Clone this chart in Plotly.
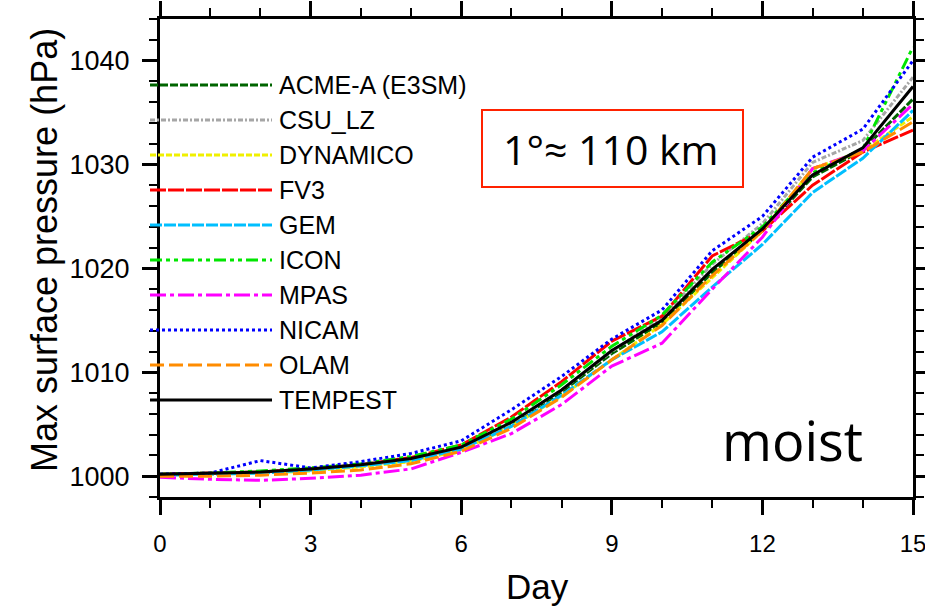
import plotly.graph_objects as go

# day axis and max surface pressure (hPa) for each dycore
days = list(range(16))

acme_a = [1000.2, 1000.3, 1000.4, 1000.7, 1001.1, 1001.6, 1002.7, 1005.0,
          1008.1, 1011.8, 1014.8, 1019.6, 1023.6, 1028.8, 1031.4, 1036.3]
csu_lz = [1000.2, 1000.3, 1000.4, 1000.6, 1001.0, 1001.6, 1002.7, 1005.1,
          1008.3, 1012.0, 1015.3, 1020.4, 1024.3, 1030.2, 1032.3, 1038.4]
dynamico = [1000.1, 1000.2, 1000.3, 1000.5, 1000.9, 1001.4, 1002.5, 1004.8,
            1007.7, 1011.2, 1014.6, 1019.1, 1023.6, 1029.6, 1031.3, 1034.6]
fv3 = [1000.2, 1000.3, 1000.4, 1000.7, 1001.1, 1001.8, 1003.0, 1005.7,
       1009.1, 1013.0, 1015.4, 1021.2, 1023.6, 1028.0, 1031.2, 1033.3]
gem = [1000.1, 1000.2, 1000.3, 1000.6, 1001.0, 1001.5, 1002.6, 1004.8,
       1007.8, 1011.2, 1013.9, 1018.2, 1022.3, 1027.3, 1030.6, 1035.2]
icon = [1000.2, 1000.3, 1000.5, 1000.8, 1001.2, 1001.9, 1003.0, 1005.5,
        1008.8, 1012.5, 1015.5, 1020.6, 1024.0, 1029.2, 1031.5, 1041.3]
mpas = [999.9, 999.7, 999.6, 999.8, 1000.1, 1000.7, 1002.3, 1004.1,
        1006.9, 1010.6, 1012.8, 1018.0, 1023.0, 1029.6, 1031.3, 1035.8]
nicam = [1000.2, 1000.3, 1001.5, 1000.8, 1001.4, 1002.2, 1003.4, 1006.4,
         1009.6, 1013.2, 1016.0, 1021.7, 1025.0, 1030.7, 1033.4, 1040.0]
olam = [1000.0, 1000.0, 1000.1, 1000.3, 1000.6, 1001.2, 1002.4, 1004.6,
        1007.6, 1011.2, 1014.5, 1019.3, 1023.6, 1029.6, 1031.2, 1034.1]
tempest = [1000.2, 1000.3, 1000.4, 1000.7, 1001.1, 1001.7, 1002.8, 1005.2,
           1008.3, 1012.1, 1015.0, 1019.9, 1023.8, 1029.0, 1031.6, 1037.5]

names = ["ACME-A (E3SM)", "CSU_LZ", "DYNAMICO", "FV3", "GEM",
         "ICON", "MPAS", "NICAM", "OLAM", "TEMPEST"]
series = [acme_a, csu_lz, dynamico, fv3, gem, icon, mpas, nicam, olam, tempest]

colors = ["#006400", "#a6a6a6", "#f0f000", "#ff0000", "#00bfff",
          "#00e600", "#ff00ff", "#0000ff", "#ff8c00", "#000000"]
dashes = ["8px,2px", "5px,2px,2px,2px", "6px,2px", "16px,2px", "12px,2px",
          "12px,4px,4px,4px,4px,4px", "16px,4px,4px,4px", "3px,3px",
          "14px,5px", "solid"]

FONT = "Liberation Sans, Arial, sans-serif"

fig = go.Figure()
for name, vals, col, dash in zip(names, series, colors, dashes):
    fig.add_trace(go.Scatter(x=days, y=vals, mode="lines", name=name,
                             line=dict(color=col, width=3, dash=dash)))

# plot frame in window pixels (body margin is removed below)
L, R, T, B = 160, 913, 19, 497
W, H = 925, 607

def px(x):
    return (x - L) / (R - L)

def py(y):
    return (B - y) / (B - T)

def note(x, y, text, size, family=FONT, **kw):
    fig.add_annotation(x=px(x), y=py(y), xref="paper", yref="paper",
                       text=text, showarrow=False,
                       xanchor=kw.pop("xanchor", "center"), yanchor="middle",
                       font=dict(family=family, size=size, color="black"), **kw)

# hand-made legend, like the NCL one, sitting on the left axis
for i, (name, col, dash) in enumerate(zip(names, colors, dashes)):
    yy = 85 + 35 * i
    fig.add_shape(type="line", xref="paper", yref="paper",
                  x0=px(150), x1=px(272), y0=py(yy), y1=py(yy),
                  line=dict(color=col, width=3, dash=dash))
    note(277, yy, name, 25, xanchor="left")

# resolution box and regime label
fig.add_shape(type="rect", xref="paper", yref="paper",
              x0=px(482), x1=px(743), y0=py(187), y1=py(110),
              line=dict(color="#ff2200", width=2), fillcolor="white",
              layer="below")
note(611, 149, "1°≈ 110 km", 41, family="Open Sans")
note(792, 440, "moist", 54, family="Open Sans")

# axis titles
note(45, 250, "Max surface pressure (hPa)", 36, textangle=-90)
note(537, 586, "Day", 35)

axis_common = dict(showline=True, linecolor="black", linewidth=3,
                   mirror="allticks", ticks="outside", ticklen=15,
                   tickwidth=3, tickcolor="black", showgrid=False,
                   zeroline=False, automargin=False,
                   ticklabeloverflow="allow")

fig.update_xaxes(range=[0, 15], tickvals=[0, 3, 6, 9, 12, 15],
                 ticklabelstandoff=8,
                 tickfont=dict(family=FONT, size=24, color="black"),
                 minor=dict(dtick=1, ticks="outside", ticklen=8,
                            tickwidth=2, tickcolor="black"),
                 **axis_common)
fig.update_yaxes(range=[998, 1044], tickvals=[1000, 1010, 1020, 1030, 1040],
                 ticklabelstandoff=7,
                 tickfont=dict(family=FONT, size=27, color="black"),
                 minor=dict(dtick=2, tick0=1000, ticks="outside", ticklen=8,
                            tickwidth=2, tickcolor="black"),
                 **axis_common)

fig.update_layout(width=W, height=H, showlegend=False,
                  plot_bgcolor="white", paper_bgcolor="white",
                  margin=dict(l=L, r=W - R, t=T, b=H - B))

fig.write_html("out.html", config={"displayModeBar": False},
               post_script="document.body.style.margin='0';"
                           "document.body.style.overflow='hidden';")
